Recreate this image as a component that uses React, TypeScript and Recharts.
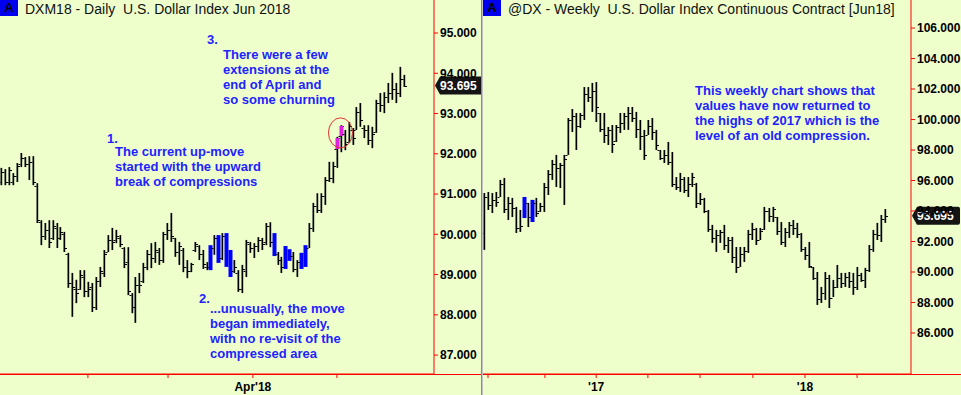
import React from 'react';
import { ComposedChart, Bar, XAxis, YAxis, ReferenceLine, ReferenceDot } from 'recharts';

// ---- Daily DXM18 (Jan - May 2018) ----
const dailyHigh = [
  91.65, 91.62, 91.67, 91.52, 91.77, 92.02, 91.92, 91.94, 91.94, 91.27,
  90.35, 90.28, 90.35, 90.35, 90.28, 90.18, 90.06, 89.54, 89.04, 88.87,
  89.11, 89.11, 88.82, 88.79, 88.94, 89.19, 89.61, 89.98, 90.16, 90.11,
  89.98, 89.68, 89.68, 88.54, 88.94, 89.04, 89.29, 89.61, 89.78, 89.81,
  89.66, 90.06, 90.28, 90.53, 89.91, 89.81, 89.66, 89.36, 89.29, 89.81,
  89.73, 89.61, 89.31, 89.73, 89.98, 89.98, 90.03, 90.03, 89.61, 89.36,
  89.11, 89.24, 89.86, 89.81, 89.78, 89.93, 89.91, 90.28, 90.30, 90.03,
  89.56, 89.44, 89.71, 89.63, 89.56, 89.36, 89.54, 89.73, 90.28, 90.78,
  91.02, 91.02, 91.42, 91.80, 91.80, 92.42, 92.71, 92.59, 92.79, 92.64,
  93.16, 93.26, 92.71, 92.71, 92.67, 93.34, 93.51, 93.53, 93.76, 94.01,
  93.76, 94.16, 93.96,
];
const dailyLow = [
  91.22, 91.22, 91.22, 91.22, 91.30, 91.67, 91.67, 91.35, 91.22, 90.28,
  89.73, 89.86, 89.66, 89.86, 89.66, 89.86, 89.56, 88.67, 87.95, 88.29,
  88.62, 88.44, 88.44, 88.07, 88.12, 88.69, 88.94, 89.56, 89.61, 89.78,
  89.68, 89.16, 88.49, 88.04, 87.80, 88.54, 88.79, 89.11, 89.16, 89.29,
  89.24, 89.29, 89.86, 89.81, 89.44, 89.24, 89.06, 88.91, 89.06, 89.56,
  89.36, 89.14, 89.11, 89.11, 89.49, 89.29, 89.36, 89.19, 88.94, 89.04,
  88.57, 88.54, 88.94, 89.54, 89.41, 89.56, 89.61, 89.73, 89.68, 89.46,
  89.24, 89.04, 89.14, 89.34, 89.06, 88.94, 89.14, 89.19, 89.66, 90.06,
  90.53, 90.53, 90.73, 91.30, 91.27, 91.65, 92.04, 92.09, 92.27, 92.22,
  92.59, 92.67, 92.39, 92.22, 92.14, 92.52, 93.04, 93.01, 93.26, 93.34,
  93.26, 93.41, 93.66,
];
const dailyOpen = [
  91.30, 91.55, 91.30, 91.30, 91.45, 91.75, 91.90, 91.75, 91.80, 91.20,
  90.30, 89.95, 90.10, 89.90, 90.15, 89.90, 90.00, 89.50, 88.80, 88.65,
  88.65, 88.95, 88.60, 88.70, 88.20, 88.85, 89.05, 89.55, 89.85, 89.85,
  89.90, 89.65, 89.30, 88.50, 88.20, 88.75, 88.85, 89.20, 89.50, 89.40,
  89.55, 89.35, 90.00, 90.10, 89.90, 89.55, 89.60, 89.20, 89.10, 89.60,
  89.70, 89.50, 89.20, 89.20, 89.65, 89.90, 89.40, 89.95, 89.30, 89.10,
  89.05, 88.65, 89.10, 89.75, 89.65, 89.70, 89.85, 89.80, 90.20, 89.80,
  89.50, 89.35, 89.20, 89.60, 89.45, 89.15, 89.30, 89.20, 89.65, 90.15,
  90.70, 90.60, 90.95, 91.35, 91.40, 92.12, 92.44, 92.50, 92.30, 92.60,
  92.60, 93.05, 92.65, 92.60, 92.35, 92.55, 93.25, 93.20, 93.40, 93.50,
  93.60, 93.50, 93.85,
];
const dailyClose = [
  91.55, 91.30, 91.60, 91.45, 91.70, 91.90, 91.75, 91.80, 91.30, 90.35,
  89.95, 90.10, 89.80, 90.20, 89.90, 90.05, 89.65, 88.80, 88.70, 88.55,
  89.00, 88.60, 88.65, 88.20, 88.85, 89.10, 89.50, 89.85, 89.80, 89.95,
  89.75, 89.25, 88.60, 88.20, 88.75, 88.75, 89.20, 89.50, 89.40, 89.60,
  89.35, 90.00, 90.10, 89.95, 89.55, 89.70, 89.20, 89.10, 89.25, 89.75,
  89.50, 89.25, 89.20, 89.65, 89.90, 89.35, 89.95, 89.30, 89.05, 89.20,
  88.65, 89.15, 89.80, 89.65, 89.70, 89.85, 89.75, 90.20, 89.80, 89.60,
  89.35, 89.20, 89.60, 89.45, 89.15, 89.30, 89.20, 89.65, 90.15, 90.70,
  90.60, 90.95, 91.35, 91.40, 91.70, 92.40, 92.68, 92.25, 92.70, 92.40,
  93.05, 92.85, 92.60, 92.35, 92.50, 93.25, 93.20, 93.40, 93.50, 93.60,
  93.50, 93.85, 93.695,
];
const dailyCompression = [53, 55, 57, 58, 69, 72, 73, 76, 77];
const dailyExtension = [85, 86];
const dailyTickPos = [21.9, 42.2, 63.7, 85];
const dailyTickLabels = ['', '', "Apr'18", ''];
const dailyYTicks = [87, 88, 89, 90, 91, 92, 93, 94, 95];

// ---- Weekly @DX (mid 2016 - May 2018) ----
const weeklyHigh = [
  95.18, 95.25, 95.18, 95.25, 96.04, 96.17, 94.92, 94.86, 94.27, 94.07,
  94.92, 94.53, 94.73, 94.86, 94.53, 95.84, 96.69, 97.35, 97.68, 97.15,
  97.68, 100.10, 100.69, 100.43, 100.43, 102.13, 102.13, 102.40, 102.46, 100.43,
  100.43, 99.51, 99.64, 99.64, 100.43, 100.43, 100.82, 100.82, 100.50, 99.97,
  99.32, 99.97, 100.10, 99.32, 98.00, 98.00, 98.53, 97.87, 96.23, 96.50,
  96.23, 96.23, 96.50, 95.84, 95.18, 94.86, 94.07, 93.09, 92.76, 92.76,
  93.09, 92.30, 92.30, 91.64, 91.64, 91.64, 92.76, 93.22, 92.89, 92.89,
  94.27, 94.20, 94.27, 93.61, 93.28, 92.89, 93.28, 93.41, 93.22, 92.56,
  91.64, 91.97, 90.33, 90.00, 89.02, 90.00, 89.81, 89.48, 90.46, 89.94,
  89.94, 90.00, 89.94, 90.33, 89.94, 90.27, 91.77, 92.76, 93.22, 93.74,
  94.13,
];
const weeklyLow = [
  91.45, 94.07, 93.87, 94.27, 94.92, 93.87, 93.41, 93.61, 92.56, 92.63,
  93.54, 92.95, 93.28, 93.61, 93.94, 93.94, 95.05, 96.04, 95.58, 95.51,
  94.40, 97.68, 99.18, 98.00, 99.45, 99.97, 101.15, 100.50, 99.84, 99.18,
  98.46, 98.33, 97.81, 98.53, 99.12, 99.32, 99.32, 99.84, 98.79, 98.00,
  97.35, 98.99, 98.66, 98.00, 97.35, 97.15, 97.02, 95.58, 95.38, 95.25,
  95.18, 94.92, 95.58, 94.20, 94.40, 93.87, 92.63, 91.91, 91.32, 91.91,
  91.45, 91.25, 90.59, 89.94, 90.33, 90.66, 91.25, 92.10, 91.77, 92.10,
  92.76, 93.28, 93.28, 92.43, 91.77, 91.64, 92.23, 92.43, 92.23, 91.32,
  90.79, 90.27, 89.48, 87.84, 87.97, 88.17, 87.64, 88.36, 88.95, 88.95,
  89.02, 88.95, 88.50, 88.82, 89.35, 88.95, 90.00, 91.32, 92.10, 91.97,
  93.22,
];
const weeklyOpen = [
  92.56, 94.90, 94.40, 94.70, 94.95, 95.80, 94.10, 94.50, 94.20, 92.90,
  93.60, 94.50, 93.60, 94.50, 94.00, 94.30, 95.60, 96.40, 97.10, 96.80,
  97.00, 97.70, 100.00, 100.20, 99.60, 100.30, 101.70, 101.50, 101.90, 100.40,
  99.40, 99.00, 99.30, 98.60, 99.50, 99.80, 100.20, 100.40, 100.10, 99.40,
  98.90, 99.00, 99.60, 99.20, 98.00, 97.50, 97.70, 97.20, 95.80, 95.60,
  96.10, 95.40, 95.80, 95.80, 94.50, 94.80, 94.00, 92.80, 92.20, 92.40,
  92.60, 91.80, 92.10, 91.00, 90.30, 91.20, 91.40, 92.50, 92.80, 92.10,
  92.80, 94.00, 93.70, 93.60, 92.70, 92.00, 92.60, 93.10, 92.90, 92.50,
  91.50, 91.10, 90.30, 89.60, 88.20, 88.60, 89.60, 88.30, 89.00, 89.60,
  89.30, 89.70, 89.40, 89.00, 89.80, 89.50, 90.10, 91.50, 92.50, 92.40,
  93.50,
];
const weeklyClose = [
  94.90, 94.40, 94.70, 94.60, 95.80, 94.10, 94.50, 94.20, 92.90, 93.00,
  94.60, 93.60, 94.50, 93.90, 94.30, 95.60, 96.40, 97.10, 96.80, 97.00,
  97.40, 100.00, 100.20, 99.60, 100.30, 101.70, 101.50, 101.90, 100.80, 99.40,
  99.00, 99.30, 98.40, 99.50, 99.80, 100.20, 100.40, 100.10, 99.40, 98.90,
  97.70, 99.60, 99.20, 98.30, 97.50, 97.70, 97.20, 95.80, 95.60, 96.10,
  95.40, 95.80, 96.20, 94.50, 94.80, 94.00, 92.80, 92.20, 92.40, 92.60,
  91.80, 92.10, 91.00, 90.30, 91.20, 91.40, 92.50, 92.80, 92.10, 92.70,
  94.00, 93.70, 94.10, 92.70, 92.00, 92.60, 93.10, 92.90, 92.50, 91.50,
  91.10, 90.40, 89.60, 88.20, 88.60, 89.60, 88.30, 89.00, 89.60, 89.30,
  89.70, 89.40, 89.00, 89.80, 89.50, 90.10, 91.50, 92.50, 92.40, 93.50,
  93.695,
];
const weeklyCompression = [10, 12];
const weeklyTickPos = [1, 15.2, 28, 40.9, 53.9, 67.1, 80.1, 93.1];
const weeklyTickLabels = ['', '', "'17", '', '', '', "'18", ''];
const weeklyYTicks = [86, 88, 90, 92, 94, 96, 98, 100, 102, 104, 106];

const LAST = 93.695;
const BG = '#EEFFCC';
const RED = '#FF0000';
const NOTE = '#2222FF';
const FONT = "Arial, 'Liberation Sans', sans-serif";

const buildRows = (hi: number[], lo: number[], op: number[], cl: number[], comp: number[], ext: number[]) =>
  hi.map((h, i) => ({
    i,
    range: [lo[i], h],
    high: h,
    low: lo[i],
    open: op[i],
    close: cl[i],
    hl: comp.includes(i) ? 'c' : ext.includes(i) ? 'e' : '',
  }));

const dailyRows = buildRows(dailyHigh, dailyLow, dailyOpen, dailyClose, dailyCompression, dailyExtension);
const weeklyRows = buildRows(weeklyHigh, weeklyLow, weeklyOpen, weeklyClose, weeklyCompression, []);

const OhlcBar = (props: any) => {
  const { x, y, width, height, payload } = props;
  if (x == null || y == null) return null;
  const top = Math.min(y, y + height);
  const h = Math.abs(height);
  const span = payload.high - payload.low;
  const toY = (v: number) => top + (span ? ((payload.high - v) / span) * h : 0);
  const cx = Math.round(x + width / 2);
  const yo = Math.round(toY(payload.open));
  const yc = Math.round(toY(payload.close));
  if (payload.hl === 'c') {
    return <rect x={cx - 1.5} y={top} width={4} height={Math.max(h, 1)} fill="#0000FF" />;
  }
  const parts = [
    <rect key="v" x={cx - 0.5} y={top} width={1.7} height={Math.max(h, 1)} fill="#000" />,
    <rect key="o" x={cx - 2.5} y={yo} width={2} height={1} fill="#000" />,
    <rect key="c" x={cx + 1} y={yc} width={2} height={1} fill="#000" />,
  ];
  if (payload.hl === 'e') {
    const b1 = Math.min(yo, yc);
    const b2 = Math.max(yo, yc);
    parts.push(<rect key="e" x={cx - 1.5} y={b1} width={4} height={b2 - b1} fill="#E020E0" />);
  }
  return <g>{parts}</g>;
};

const PriceTag = (props: any) => {
  const { viewBox } = props;
  if (!viewBox) return null;
  const x = viewBox.x + viewBox.width + 1;
  const yy = viewBox.y;
  return (
    <g>
      <path
        d={`M${x} ${yy} L${x + 5} ${yy - 9} L${x + 46} ${yy - 9} Q${x + 48} ${yy - 9} ${x + 48} ${yy - 7} L${x + 48} ${yy + 7} Q${x + 48} ${yy + 9} ${x + 46} ${yy + 9} L${x + 5} ${yy + 9} Z`}
        fill="#141414"
      />
      <text x={x + 5} y={yy} dy="0.36em" fill="#FFFFFF" fontSize={12} fontWeight="bold" fontFamily={FONT}>
        {LAST.toFixed(3)}
      </text>
    </g>
  );
};

const Ellipse = (props: any) => (
  <ellipse cx={props.cx} cy={props.cy} rx={12} ry={15} fill="none" stroke="#E03030" strokeWidth={1} />
);

const tickStyle = { fill: '#000', fontSize: 12, fontWeight: 'bold' as const, fontFamily: FONT };

const Note = ({ left, top, lines }: { left: number; top: number; lines: string[] }) => (
  <div
    style={{
      position: 'absolute',
      left,
      top,
      color: NOTE,
      font: `bold 13px ${FONT}`,
      lineHeight: '15px',
      whiteSpace: 'pre',
    }}
  >
    {lines.join('\n')}
  </div>
);

const Title = ({ left, text }: { left: number; text: string }) => (
  <>
    <div
      style={{
        position: 'absolute',
        left,
        top: 0,
        width: 18,
        height: 16,
        background: '#0000EE',
        color: '#000',
        font: `bold 13px ${FONT}`,
        lineHeight: '16px',
        textAlign: 'center',
      }}
    >
      A
    </div>
    <div
      style={{
        position: 'absolute',
        left: left + 25,
        top: 1,
        color: '#111',
        font: `14px ${FONT}`,
        lineHeight: '16px',
        whiteSpace: 'pre',
      }}
    >
      {text}
    </div>
  </>
);

export default function App() {
  return (
    <div style={{ position: 'absolute', left: 0, top: 0, width: 961, height: 395, background: BG, overflow: 'hidden', fontFamily: FONT }}>
      {/* bottom red rules */}
      <div style={{ position: 'absolute', left: 0, top: 374, width: 481, height: 1, background: RED }} />
      <div style={{ position: 'absolute', left: 483, top: 374, width: 478, height: 1, background: RED }} />
      {/* panel separator */}
      <div style={{ position: 'absolute', left: 481, top: 0, width: 1, height: 395, background: '#8A8A8A' }} />
      <div style={{ position: 'absolute', left: 482, top: 0, width: 1, height: 395, background: '#C4C4C4' }} />

      <div style={{ position: 'absolute', left: 0, top: 0 }}>
        <ComposedChart width={481} height={395} data={dailyRows} margin={{ top: 0, right: 0, bottom: 0, left: 0 }}>
          <XAxis
            dataKey="i"
            type="number"
            domain={[-0.38, 109.6]}
            allowDataOverflow
            ticks={dailyTickPos}
            tickFormatter={(v: number) => dailyTickLabels[dailyTickPos.indexOf(v)] ?? ''}
            height={21}
            axisLine={{ stroke: RED }}
            tickLine={{ stroke: RED }}
            tickSize={4}
            tickMargin={4}
            tick={tickStyle}
            interval={0}
          />
          <YAxis
            orientation="right"
            width={47}
            domain={[86.53, 95.82]}
            allowDataOverflow
            ticks={dailyYTicks}
            tickFormatter={(v: number) => v.toFixed(3)}
            axisLine={{ stroke: RED }}
            tickLine={{ stroke: RED }}
            tickSize={4}
            tickMargin={2}
            tick={tickStyle}
            interval={0}
          />
          <Bar dataKey="range" barSize={4} shape={<OhlcBar />} isAnimationActive={false} />
          <ReferenceDot x={85.9} y={92.52} shape={<Ellipse />} ifOverflow="visible" />
          <ReferenceLine y={LAST} stroke="none" label={<PriceTag />} ifOverflow="visible" />
        </ComposedChart>
      </div>

      <div style={{ position: 'absolute', left: 483, top: 0 }}>
        <ComposedChart width={478} height={395} data={weeklyRows} margin={{ top: 0, right: 0, bottom: 0, left: 0 }}>
          <XAxis
            dataKey="i"
            type="number"
            domain={[-0.25, 106.56]}
            allowDataOverflow
            ticks={weeklyTickPos}
            tickFormatter={(v: number) => weeklyTickLabels[weeklyTickPos.indexOf(v)] ?? ''}
            height={21}
            axisLine={{ stroke: RED }}
            tickLine={{ stroke: RED }}
            tickSize={4}
            tickMargin={4}
            tick={tickStyle}
            interval={0}
          />
          <YAxis
            orientation="right"
            width={50}
            domain={[83.31, 107.84]}
            allowDataOverflow
            ticks={weeklyYTicks}
            tickFormatter={(v: number) => v.toFixed(3)}
            axisLine={{ stroke: RED }}
            tickLine={{ stroke: RED }}
            tickSize={4}
            tickMargin={2}
            tick={tickStyle}
            interval={0}
          />
          <Bar dataKey="range" barSize={4} shape={<OhlcBar />} isAnimationActive={false} />
          <ReferenceLine y={LAST} stroke="none" label={<PriceTag />} ifOverflow="visible" />
        </ComposedChart>
      </div>

      <Title left={0} text="DXM18 - Daily  U.S. Dollar Index Jun 2018" />
      <Title left={483} text="@DX - Weekly  U.S. Dollar Index Continuous Contract [Jun18]" />

      <Note left={207} top={32} lines={['3.']} />
      <Note left={223} top={47} lines={['There were a few', 'extensions at the', 'end of April and', 'so some churning']} />
      <Note left={107} top={131} lines={['1.']} />
      <Note left={115} top={144} lines={['The current up-move', 'started with the upward', 'break of compressions']} />
      <Note left={199} top={291} lines={['2.']} />
      <Note left={210} top={301} lines={['...unusually, the move', 'began immediately,', 'with no re-visit of the', 'compressed area']} />
      <Note left={695} top={83} lines={['This weekly chart shows that', 'values have now returned to', 'the highs of 2017 which is the', 'level of an old compression.']} />
    </div>
  );
}
